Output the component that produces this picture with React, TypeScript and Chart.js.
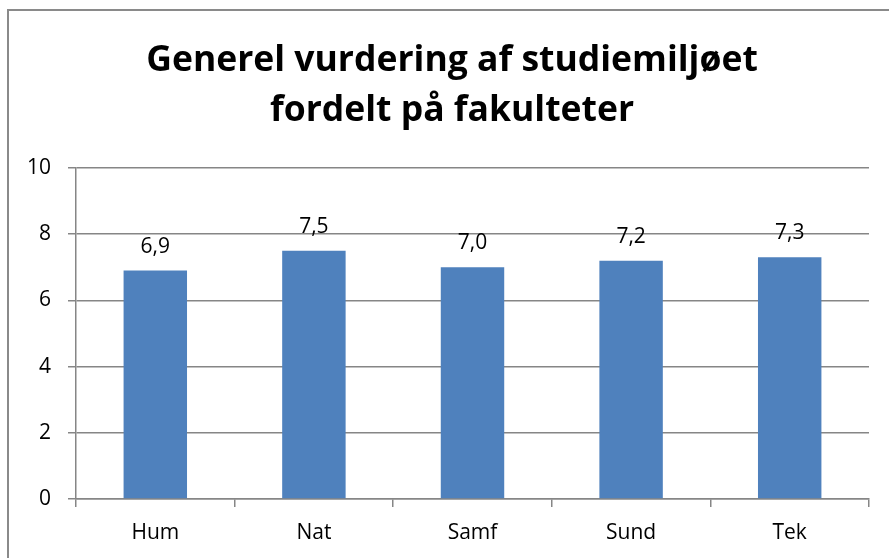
import React, { useEffect, useRef } from "react";
import { Chart, registerables } from "chart.js";

Chart.register(...registerables);

const categories = ["Hum", "Nat", "Samf", "Sund", "Tek"];
const values = [6.9, 7.5, 7.0, 7.2, 7.3];
const titleLines = ["Generel vurdering af studiemiljøet", "fordelt på fakulteter"];
const yMin = 0;
const yMax = 10;
const yStep = 2;

const FONT = "'Open Sans', 'Liberation Sans', sans-serif";

const borderPlugin = {
  id: "outerBorder",
  beforeDraw(chart: any) {
    const ctx = chart.ctx;
    ctx.save();
    ctx.fillStyle = "#ffffff";
    ctx.fillRect(0, 0, chart.width, chart.height);
    ctx.strokeStyle = "#8a8a8a";
    ctx.lineWidth = 2;
    ctx.strokeRect(8, 10, chart.width + 20, chart.height + 20);
    ctx.restore();
  },
};

const titlePlugin = {
  id: "customTitle",
  afterDraw(chart: any) {
    const ctx = chart.ctx;
    ctx.save();
    ctx.font = `bold 35.5px ${FONT}`;
    ctx.fillStyle = "#000000";
    ctx.textAlign = "center";
    ctx.textBaseline = "alphabetic";
    ctx.fillText(titleLines[0], 452, 71);
    ctx.fillText(titleLines[1], 452, 121);
    ctx.restore();
  },
};

const labelPlugin = {
  id: "barLabels",
  afterDatasetsDraw(chart: any) {
    const ctx = chart.ctx;
    const meta = chart.getDatasetMeta(0);
    ctx.save();
    ctx.font = `21px ${FONT}`;
    ctx.fillStyle = "#000000";
    ctx.textAlign = "center";
    ctx.textBaseline = "alphabetic";
    meta.data.forEach((bar: any, i: number) => {
      const v = values[i];
      ctx.fillText(v.toFixed(1).replace(".", ","), bar.x, bar.y - 18);
    });
    ctx.restore();
  },
};

export default function App() {
  const ref = useRef<HTMLCanvasElement>(null);
  useEffect(() => {
    if (!ref.current) return;
    const chart = new Chart(ref.current, {
      type: "bar",
      data: {
        labels: categories,
        datasets: [
          {
            data: values,
            backgroundColor: "#4F81BD",
            categoryPercentage: 1,
            barPercentage: 0.4,
          },
        ],
      },
      options: {
        animation: false,
        responsive: false,
        maintainAspectRatio: false,
        layout: { padding: { left: 10, right: 20, top: 168, bottom: 0 } },
        plugins: {
          legend: { display: false },
          tooltip: { enabled: false },
          title: { display: false },
        },
        scales: {
          x: {
            offset: true,
            grid: {
              display: true,
              offset: true,
              drawOnChartArea: false,
              drawTicks: true,
              tickLength: 8,
              color: "#868686",
              lineWidth: 1.5,
            },
            border: { display: true, color: "#868686", width: 1.5 },
            ticks: { color: "#000000", font: { family: FONT, size: 21 }, padding: 13 },
            afterFit: (s: any) => {
              s.height = 59;
            },
          },
          y: {
            min: yMin,
            max: yMax,
            ticks: {
              stepSize: yStep,
              color: "#000000",
              font: { family: FONT, size: 21 },
              padding: 17,
            },
            grid: { color: "#868686", lineWidth: 1.5, tickLength: 8 },
            border: { display: true, color: "#868686", width: 1.5 },
            afterFit: (s: any) => {
              s.width = 66;
            },
          },
        },
      },
      plugins: [borderPlugin, titlePlugin, labelPlugin],
    });
    return () => chart.destroy();
  }, []);
  return (
    <div style={{ position: "fixed", left: 0, top: 0, width: 889, height: 558 }}>
      <canvas ref={ref} width={889} height={558} style={{ width: 889, height: 558 }} />
    </div>
  );
}
